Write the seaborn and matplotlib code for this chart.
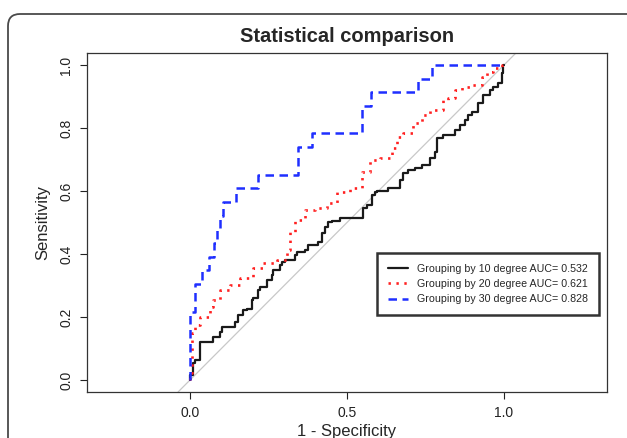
import numpy as np
import pandas as pd
import matplotlib
matplotlib.use("Agg")
import matplotlib.pyplot as plt
from matplotlib.patches import FancyBboxPatch
import seaborn as sns

# ROC points (1 - specificity, sensitivity)
fpr_10 = [0.0, 0.01, 0.01, 0.016, 0.032, 0.032, 0.048, 0.073, 0.096, 0.102, 0.127, 0.143,
          0.153, 0.169, 0.182, 0.197, 0.2, 0.217, 0.223, 0.245, 0.261, 0.264, 0.287, 0.293,
          0.303, 0.334, 0.341, 0.366, 0.376, 0.408, 0.42, 0.43, 0.439, 0.452, 0.478, 0.51,
          0.551, 0.564, 0.58, 0.589, 0.596, 0.631, 0.669, 0.678, 0.694, 0.717, 0.739, 0.764,
          0.78, 0.787, 0.806, 0.844, 0.86, 0.876, 0.885, 0.898, 0.917, 0.933, 0.955, 0.965,
          0.981, 0.994, 0.997, 1.0]
tpr_10 = [0.0, 0.016, 0.038, 0.054, 0.063, 0.105, 0.121, 0.121, 0.137, 0.152, 0.168, 0.168,
          0.184, 0.206, 0.222, 0.225, 0.254, 0.26, 0.286, 0.295, 0.317, 0.333, 0.349, 0.365,
          0.375, 0.381, 0.397, 0.406, 0.413, 0.429, 0.438, 0.467, 0.486, 0.502, 0.505, 0.514,
          0.514, 0.546, 0.556, 0.587, 0.597, 0.6, 0.61, 0.635, 0.657, 0.667, 0.673, 0.683,
          0.705, 0.724, 0.768, 0.778, 0.794, 0.81, 0.825, 0.841, 0.851, 0.879, 0.905, 0.921,
          0.93, 0.943, 0.975, 1.0]

fpr_20 = [0.0, 0.006, 0.006, 0.016, 0.032, 0.064, 0.073, 0.096, 0.127, 0.159, 0.2, 0.232,
          0.277, 0.309, 0.318, 0.334, 0.366, 0.398, 0.436, 0.468, 0.51, 0.548, 0.573, 0.605,
          0.643, 0.659, 0.678, 0.71, 0.739, 0.764, 0.806, 0.822, 0.844, 0.866, 0.892, 0.93,
          0.946, 0.965, 0.994, 1.0]
tpr_20 = [0.0, 0.022, 0.117, 0.149, 0.175, 0.2, 0.232, 0.254, 0.286, 0.302, 0.324, 0.356,
          0.371, 0.381, 0.413, 0.47, 0.508, 0.54, 0.546, 0.562, 0.597, 0.61, 0.66, 0.698,
          0.705, 0.737, 0.771, 0.784, 0.816, 0.841, 0.857, 0.889, 0.895, 0.921, 0.93, 0.937,
          0.962, 0.978, 0.99, 1.0]

fpr_30 = [0.0, 0.0, 0.016, 0.016, 0.038, 0.038, 0.06, 0.06, 0.075, 0.075, 0.085, 0.085,
          0.095, 0.095, 0.105, 0.105, 0.148, 0.148, 0.218, 0.218, 0.345, 0.345, 0.39, 0.39,
          0.548, 0.548, 0.576, 0.576, 0.726, 0.726, 0.771, 0.771, 1.0]
tpr_30 = [0.0, 0.217, 0.217, 0.304, 0.304, 0.348, 0.348, 0.391, 0.391, 0.435, 0.435, 0.478,
          0.478, 0.522, 0.522, 0.565, 0.565, 0.609, 0.609, 0.652, 0.652, 0.739, 0.739, 0.783,
          0.783, 0.87, 0.87, 0.913, 0.913, 0.957, 0.957, 1.0, 1.0]

labels = ["Grouping by 10 degree AUC= 0.532",
          "Grouping by 20 degree AUC= 0.621",
          "Grouping by 30 degree AUC= 0.828"]


def stairs(xs, ys):
    # turn the read points into an ROC staircase (up first, then across)
    sx, sy = [xs[0]], [ys[0]]
    for i in range(1, len(xs)):
        sx += [xs[i - 1], xs[i]]
        sy += [ys[i], ys[i]]
    return pd.DataFrame({"fpr": sx, "tpr": sy})


sns.set_style("white")
plt.rcParams["font.family"] = ["Liberation Sans", "DejaVu Sans"]

fig = plt.figure(figsize=(6.27, 4.38), dpi=100)
ax = fig.add_axes([87 / 627, 46 / 438, 520 / 627, 339 / 438])

# outer rounded panel frame, runs off the right and bottom edges
frame = FancyBboxPatch((0.08, -0.5), 6.6, 4.74, boxstyle="round,pad=0,rounding_size=0.12",
                       transform=fig.dpi_scale_trans, fill=False, edgecolor="#4a4a4a",
                       linewidth=1.3, clip_on=False)
fig.patches.append(frame)

ax.axline((0, 0), (1, 1), color="#c8c8c8", linewidth=0.9, zorder=1)

sns.lineplot(data=stairs(fpr_10, tpr_10), x="fpr", y="tpr", sort=False, estimator=None,
             color="#1a1a1a", linewidth=1.6, ax=ax, label=labels[0])
sns.lineplot(data=stairs(fpr_20, tpr_20), x="fpr", y="tpr", sort=False, estimator=None,
             color="#ff2020", linewidth=1.9, linestyle=(0, (0.9, 2.1)), ax=ax, label=labels[1])
sns.lineplot(data=stairs(fpr_30, tpr_30), x="fpr", y="tpr", sort=False, estimator=None,
             color="#1f2fff", linewidth=1.8, linestyle=(0, (3.4, 2.2)), ax=ax, label=labels[2])

ax.set_xlim(-0.328, 1.328)
ax.set_ylim(-0.038, 1.038)
ax.set_xticks([0.0, 0.5, 1.0])
ax.set_yticks([0.0, 0.2, 0.4, 0.6, 0.8, 1.0])
ax.set_xticklabels(["0.0", "0.5", "1.0"])
ax.set_yticklabels(["0.0", "0.2", "0.4", "0.6", "0.8", "1.0"], rotation=90, va="center")
ax.tick_params(direction="out", length=5, width=0.8, pad=5, labelsize=10,
               colors="#222222", bottom=True, left=True)
for s in ax.spines.values():
    s.set_color("#333333")
    s.set_linewidth(0.9)

ax.set_title("Statistical comparison", fontsize=14.5, fontweight="bold", pad=8)
ax.set_xlabel("1 - Specificity", fontsize=12, labelpad=3)
ax.set_ylabel("Sensitivity", fontsize=12, labelpad=6)

leg = ax.legend(loc="upper left", bbox_to_anchor=(0.558, 0.41), fontsize=7.7,
                handlelength=1.9, handletextpad=0.85, labelspacing=0.5,
                borderpad=1.0, frameon=True, fancybox=False, borderaxespad=0)
leg.get_frame().set_edgecolor("black")
leg.get_frame().set_linewidth(1.8)

fig.savefig("out.png", dpi=100)
